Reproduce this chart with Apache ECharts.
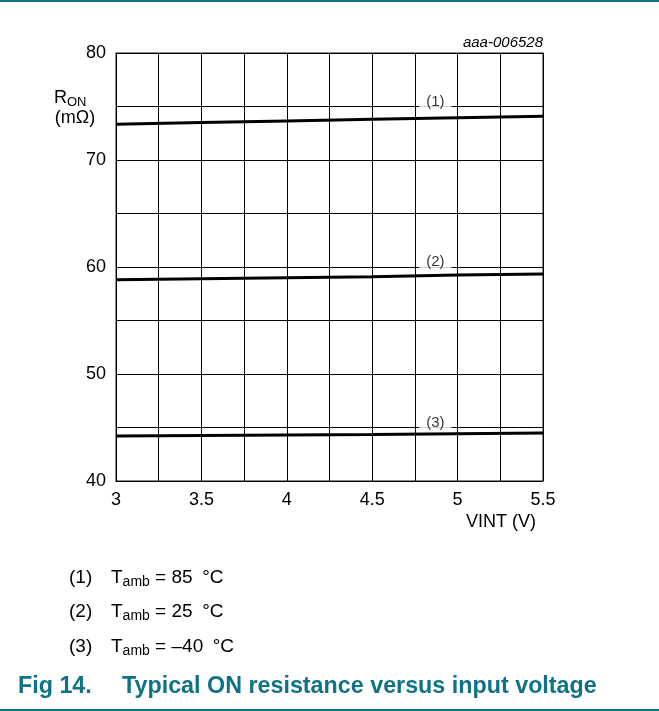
<!DOCTYPE html>
<html><head><meta charset="utf-8">
<script src="https://cdn.jsdelivr.net/npm/echarts@6/dist/echarts.min.js"></script>
<style>html,body{margin:0;padding:0;background:#fff}#c{width:659px;height:711px}</style>
</head><body><div id="c"></div>
<script>
const vint = [3, 3.5, 4, 4.5, 5, 5.5];
const ron85 = [73.35, 73.5, 73.65, 73.8, 73.95, 74.1];
const ron25 = [58.8, 58.9, 59.0, 59.1, 59.25, 59.35];
const ronM40 = [44.2, 44.25, 44.3, 44.35, 44.42, 44.48];
const curveLabels = ['(1)', '(2)', '(3)'];
const labelX = [4.87, 4.87, 4.87];
const labelY = [75, 60, 45];
const legendKeys = ['(1)', '(2)', '(3)'];
const legendTemps = ['85 °C', '25 °C', '\u201340 °C'];

const F = '"Liberation Sans", Arial, sans-serif';
const teal = '#0f7286';
const chart = echarts.init(document.getElementById('c'), null, {renderer: 'canvas'});

function pairs(xs, ys) { return xs.map((x, i) => [x, ys[i]]); }
const lineSeries = [ron85, ron25, ronM40].map(v => ({
  type: 'line', data: pairs(vint, v), symbol: 'none', smooth: false,
  lineStyle: {color: '#000', width: 3}, z: 5, silent: true
}));
const labelSeries = {
  type: 'scatter', symbolSize: 0, z: 6, silent: true,
  data: labelX.map((x, i) => ({value: [x, labelY[i]], label: {formatter: curveLabels[i]}})),
  label: {show: true, position: 'inside', color: '#000', fontFamily: F, fontSize: 15,
    backgroundColor: '#fff', padding: [0, 7, 0, 7], offset: [0, -5]}
};

const graphic = [
  {type: 'rect', shape: {x: 0, y: 0, width: 659, height: 2}, style: {fill: teal}},
  {type: 'rect', shape: {x: 0, y: 709, width: 659, height: 2}, style: {fill: teal}},
  {type: 'text', x: 543, y: 43, style: {text: 'aaa-006528', font: 'italic 15px ' + F, fill: '#000', align: 'right', verticalAlign: 'middle'}},
  {type: 'text', x: 54, y: 98, style: {text: '{r|R}{s|ON}', align: 'left', verticalAlign: 'middle',
    rich: {r: {fontFamily: F, fontSize: 18, fill: '#000'}, s: {fontFamily: F, fontSize: 13, fill: '#000', padding: [8, 0, 0, 0]}}}},
  {type: 'text', x: 75, y: 118, style: {text: '(mΩ)', font: '18px ' + F, fill: '#000', align: 'center', verticalAlign: 'middle'}},
  {type: 'text', x: 501, y: 522, style: {text: 'VINT (V)', font: '18px ' + F, fill: '#000', align: 'center', verticalAlign: 'middle'}},
  {type: 'text', x: 18, y: 687, style: {text: 'Fig 14.', font: 'bold 23.3px ' + F, fill: teal, align: 'left', verticalAlign: 'middle'}},
  {type: 'text', x: 122, y: 687, style: {text: 'Typical ON resistance versus input voltage', font: 'bold 23.3px ' + F, fill: teal, align: 'left', verticalAlign: 'middle'}}
];
const legendY = [578, 612, 647];
legendKeys.forEach((k, i) => {
  graphic.push({type: 'text', x: 69, y: legendY[i], style: {text: k, font: '19px ' + F, fill: '#000', align: 'left', verticalAlign: 'middle'}});
  graphic.push({type: 'text', x: 111, y: legendY[i], style: {text: '{t|T}{s|amb}{t| = ' + legendTemps[i].replace(' ', '\u2002') + '}', align: 'left', verticalAlign: 'middle',
    rich: {t: {fontFamily: F, fontSize: 19, fill: '#000'}, s: {fontFamily: F, fontSize: 14, fill: '#000', padding: [9, 0, 0, 0]}}}});
});

chart.setOption({
  animation: false,
  backgroundColor: '#fff',
  grid: {left: 116, right: 116, top: 53, bottom: 230, show: true, borderColor: '#666', borderWidth: 1.5, backgroundColor: 'transparent'},
  xAxis: {type: 'value', min: 3, max: 5.5, interval: 0.25,
    axisLine: {show: false}, axisTick: {show: false},
    splitLine: {show: true, lineStyle: {color: '#000', width: 1}},
    axisLabel: {color: '#000', fontFamily: F, fontSize: 18, margin: 10, showMinLabel: true, showMaxLabel: true,
      formatter: v => (Math.abs(v * 2 - Math.round(v * 2)) < 1e-6 ? String(v) : '')}},
  yAxis: {type: 'value', min: 40, max: 80, interval: 5,
    axisLine: {show: false}, axisTick: {show: false},
    splitLine: {show: true, lineStyle: {color: '#000', width: 1}},
    axisLabel: {color: '#000', fontFamily: F, fontSize: 18, margin: 10, showMinLabel: true, showMaxLabel: true,
      formatter: v => (v % 10 === 0 ? String(v) : '')}},
  series: [...lineSeries, labelSeries],
  graphic: graphic
});
</script></body></html>
